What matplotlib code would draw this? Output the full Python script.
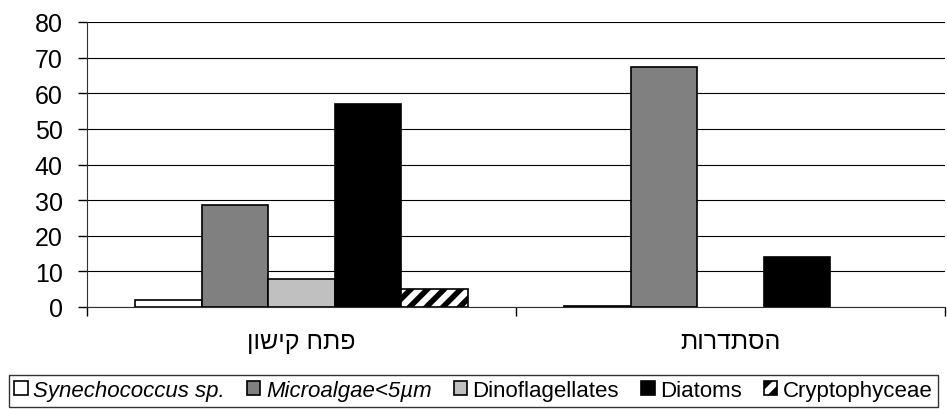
import matplotlib.pyplot as plt
import numpy as np

plt.rcParams['font.family'] = ['Liberation Sans', 'DejaVu Sans']
plt.rcParams['hatch.linewidth'] = 4.0

# Hebrew labels (reversed for visual right-to-left display)
categories = ["פתח קישון", "הסתדרות"]
series = ["Synechococcus sp.", "Microalgae<5µm", "Dinoflagellates", "Diatoms", "Cryptophyceae"]
synechococcus = [2, 0.3]
microalgae = [28.5, 67.5]
dinoflagellates = [8, 0]
diatoms = [57, 14]
cryptophyceae = [5, 0]

values = [synechococcus, microalgae, dinoflagellates, diatoms, cryptophyceae]
colors = ['white', '#808080', '#c0c0c0', 'black', 'white']
hatches = [None, None, None, None, '//']

fig = plt.figure(figsize=(9.47, 4.10), dpi=100)
ax = fig.add_axes([87 / 947, 1 - 308 / 410, 858 / 947, 285 / 410])

x = np.arange(len(categories))
n = len(series)
width = 0.774 / n
for i in range(n):
    pos = x - 0.387 + width * (i + 0.5)
    v = np.array(values[i], dtype=float)
    v[v == 0] = np.nan  # zero values are not drawn
    ax.bar(pos, v, width, color=colors[i], edgecolor='black',
           linewidth=1.2, hatch=hatches[i], label=series[i], zorder=3)

ax.set_xlim(-0.5, 1.5)
ax.set_ylim(0, 80)
ax.set_yticks(range(0, 81, 10))
ax.tick_params(axis='y', labelsize=18, length=6.5, width=1, direction='out', pad=11)
ax.yaxis.grid(True, color='black', linewidth=0.8, zorder=0)

ax.set_xticks(x)
ax.set_xticklabels([c[::-1] for c in categories], fontsize=18)
ax.tick_params(axis='x', length=0, pad=16)
ax.set_xticks([-0.5, 0.5, 1.5], minor=True)
ax.tick_params(axis='x', which='minor', length=6.5, width=1, direction='out')

for s in ['top', 'right']:
    ax.spines[s].set_visible(False)
ax.spines['left'].set_color('#303030')
ax.spines['bottom'].set_color('#303030')

leg = fig.legend(loc='lower center', bbox_to_anchor=(0.5, 0.0), ncol=5, fontsize=16,
                 frameon=True, fancybox=False, edgecolor='black',
                 handlelength=0.6, handleheight=0.6, handletextpad=0.25,
                 columnspacing=1.0, borderpad=0.25, borderaxespad=0.1)
leg.get_frame().set_linewidth(1)
for t in leg.get_texts()[:2]:
    t.set_fontstyle('italic')

fig.savefig('out.png', dpi=100)
